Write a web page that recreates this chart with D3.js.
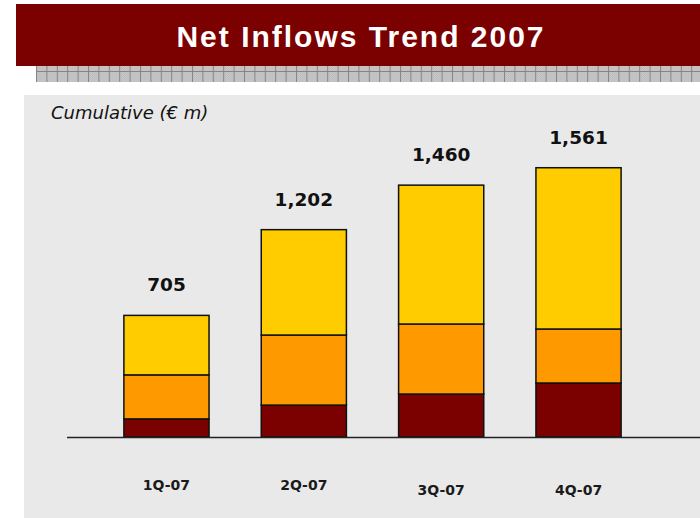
<!DOCTYPE html>
<html>
<head>
<meta charset="utf-8">
<script src="https://cdn.jsdelivr.net/npm/d3@7"></script>
<style>
  html, body { margin: 0; padding: 0; background: #ffffff; }
  svg { display: block; }
</style>
</head>
<body>
<svg id="chart" width="700" height="518"></svg>
<script>
// Quarterly cumulative net inflows (€ m), split into three stacked components
const categories = ["1Q-07", "2Q-07", "3Q-07", "4Q-07"];
const lowerValues = [105, 185, 249, 313];
const middleValues = [255, 406, 406, 313];
const upperValues = [345, 611, 805, 935];
const totalLabels = [705, 1202, 1460, 1561];
const yDomainMax = 1600;

const seriesKeys = ["lower", "middle", "upper"];
const seriesColors = { lower: "#7b0000", middle: "#ff9900", upper: "#ffcc00" };

const rows = categories.map((c, i) => ({
  category: c,
  lower: lowerValues[i],
  middle: middleValues[i],
  upper: upperValues[i],
  total: totalLabels[i]
}));

const svg = d3.select("#chart");

// Title banner
svg.append("rect")
  .attr("x", 16).attr("y", 4).attr("width", 684).attr("height", 62)
  .attr("fill", "#7b0000");
svg.append("text")
  .attr("x", 361).attr("y", 47)
  .attr("text-anchor", "middle")
  .attr("fill", "#ffffff")
  .style("font-family", "'Liberation Sans', Arial, sans-serif")
  .style("font-weight", "bold")
  .style("font-size", "30px")
  .style("letter-spacing", "2px")
  .text("Net Inflows Trend 2007");

// Grey tiled strip under the banner
const defs = svg.append("defs");
const tile = defs.append("pattern")
  .attr("id", "tile")
  .attr("patternUnits", "userSpaceOnUse")
  .attr("x", 36).attr("y", 66)
  .attr("width", 10.4).attr("height", 16);
tile.append("rect").attr("width", 10.4).attr("height", 16).attr("fill", "#b8b8b8");
const dots = defs.append("pattern")
  .attr("id", "dots")
  .attr("patternUnits", "userSpaceOnUse")
  .attr("width", 2).attr("height", 2);
dots.append("rect").attr("width", 1).attr("height", 1).attr("fill", "#cccccc");
dots.append("rect").attr("x", 1).attr("y", 1).attr("width", 1).attr("height", 1).attr("fill", "#cccccc");
tile.append("rect").attr("width", 10.4).attr("height", 16).attr("fill", "url(#dots)");
tile.append("line").attr("x1", 0.5).attr("x2", 0.5).attr("y1", 0).attr("y2", 16)
  .attr("stroke", "#858585").attr("stroke-width", 1);
tile.append("line").attr("x1", 0).attr("x2", 10.4).attr("y1", 5.5).attr("y2", 5.5)
  .attr("stroke", "#858585").attr("stroke-width", 1);
svg.append("rect")
  .attr("x", 36).attr("y", 66).attr("width", 664).attr("height", 16)
  .attr("fill", "url(#tile)");

// Chart panel
svg.append("rect")
  .attr("x", 24).attr("y", 95).attr("width", 676).attr("height", 423)
  .attr("fill", "#e9e9e9");

svg.append("text")
  .attr("x", 51).attr("y", 119)
  .attr("fill", "#111111")
  .style("font-family", "'DejaVu Sans', Verdana, sans-serif")
  .style("font-style", "italic")
  .style("font-size", "18px")
  .text("Cumulative (\u20AC m)");

// Scales
const x = d3.scaleBand()
  .domain(categories)
  .range([97.8, 647.2])
  .paddingInner(0.38)
  .paddingOuter(0.19);

const y = d3.scaleLinear()
  .domain([0, yDomainMax])
  .range([437, 161]);

const stacked = d3.stack().keys(seriesKeys)(rows);

// Stacked bars
const layers = svg.append("g").selectAll("g")
  .data(stacked)
  .join("g")
  .attr("fill", d => seriesColors[d.key]);

layers.selectAll("rect")
  .data(d => d)
  .join("rect")
  .attr("x", d => x(d.data.category))
  .attr("width", x.bandwidth())
  .attr("y", d => y(d[1]))
  .attr("height", d => y(d[0]) - y(d[1]))
  .attr("stroke", "#111111")
  .attr("stroke-width", 1.5);

// Baseline axis
const axis = d3.axisBottom(x).tickSize(0).tickFormat("");
const axisG = svg.append("g")
  .attr("transform", `translate(0,${y(0)})`)
  .call(axis);
axisG.select(".domain").remove();
axisG.append("line")
  .attr("x1", 67).attr("x2", 700)
  .attr("y1", 0.5).attr("y2", 0.5)
  .attr("stroke", "#222222")
  .attr("stroke-width", 1.5);

// Category labels (the last two sit slightly lower)
const labelDrop = [0, 0, 5, 5];
svg.append("g").selectAll("text")
  .data(categories)
  .join("text")
  .attr("x", d => x(d) + x.bandwidth() / 2)
  .attr("y", (d, i) => 490 + labelDrop[i])
  .attr("text-anchor", "middle")
  .attr("fill", "#1a1a1a")
  .style("font-family", "'DejaVu Sans', Verdana, sans-serif")
  .style("font-weight", "bold")
  .style("font-size", "14px")
  .text(d => d);

// Total value labels above each bar
const fmt = d3.format(",");
svg.append("g").selectAll("text")
  .data(rows)
  .join("text")
  .attr("x", d => x(d.category) + x.bandwidth() / 2)
  .attr("y", d => y(d.lower + d.middle + d.upper) - 24)
  .attr("text-anchor", "middle")
  .attr("fill", "#111111")
  .style("font-family", "'DejaVu Sans', Verdana, sans-serif")
  .style("font-weight", "bold")
  .style("font-size", "18.5px")
  .text(d => fmt(d.total));
</script>
</body>
</html>
